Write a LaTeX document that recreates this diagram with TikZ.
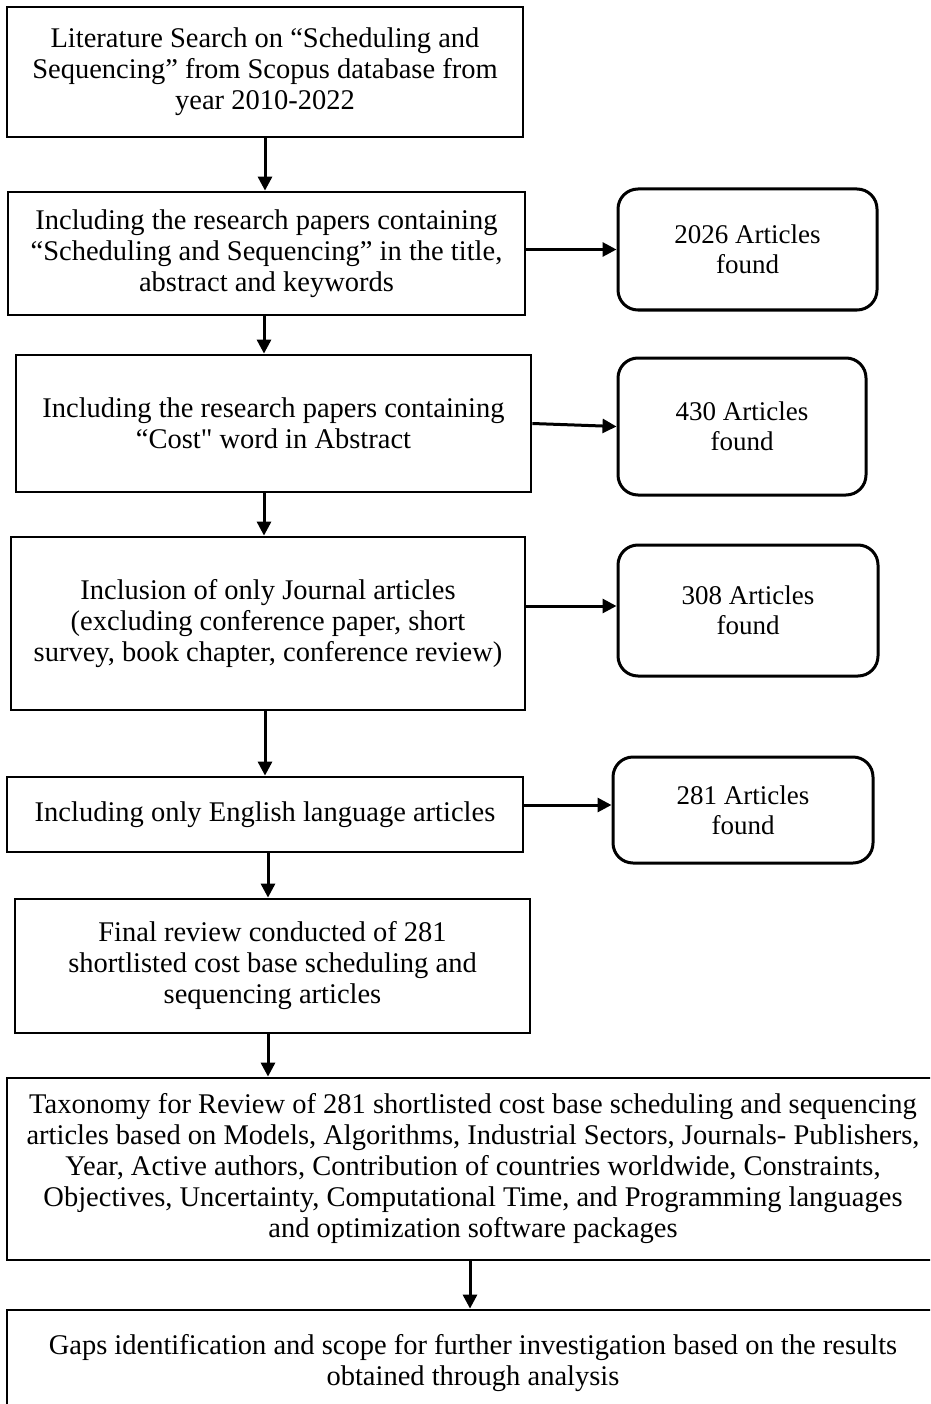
\documentclass[tikz,border=0pt]{standalone}
\usepackage{fontspec}
\setmainfont{Liberation Serif}
\newfontfamily\plainquote{Liberation Serif}
\usetikzlibrary{arrows.meta}
\tikzset{
  mainbox/.style={draw, line width=2.8pt, rectangle, inner sep=0pt, align=center,
    font=\fontsize{28.5}{31}\selectfont},
  sidebox/.style={draw, line width=3pt, rectangle, rounded corners=20pt, inner sep=0pt, align=center,
    font=\fontsize{27}{30}\selectfont},
  arr/.style={line width=3pt, -{Triangle[length=14pt,width=14pt]}}
}
\begin{document}
\begin{tikzpicture}[x=1pt,y=-1pt]
\path[use as bounding box] (0,0) rectangle (930,1404);
\clip (0,0) rectangle (930,1404);
% main boxes
\node[mainbox, minimum width=516pt, minimum height=130pt] (b1) at (265,72)
  {Literature Search on “Scheduling and\\ Sequencing” from Scopus database from\\ year 2010-2022};
\node[mainbox, minimum width=517pt, minimum height=123pt] (b2) at (266.5,253.5)
  {Including the research papers containing\\ “Scheduling and Sequencing” in the title,\\ abstract and keywords};
\node[mainbox, minimum width=515pt, minimum height=137pt] (b3) at (273.5,423.5)
  {Including the research papers containing\\ “Cost{\plainquote"} word in Abstract};
\node[mainbox, minimum width=514pt, minimum height=173pt] (b4) at (268,623.5)
  {Inclusion of only Journal articles\\ (excluding conference paper, short\\ survey, book chapter, conference review)};
\node[mainbox, minimum width=516pt, minimum height=75pt] (b5) at (265,814.5)
  {Including only English language articles};
\node[mainbox, minimum width=515pt, minimum height=134pt] (b6) at (272.5,966)
  {Final review conducted of 281\\ shortlisted cost base scheduling and\\ sequencing articles};
\node[mainbox, minimum width=932pt, minimum height=182pt] (b7) at (473,1169)
  {Taxonomy for Review of 281 shortlisted cost base scheduling and sequencing\\ articles based on Models, Algorithms, Industrial Sectors, Journals- Publishers,\\ Year, Active authors, Contribution of countries worldwide, Constraints,\\ Objectives, Uncertainty, Computational Time, and Programming languages\\ and optimization software packages};
\node[mainbox, minimum width=932pt, minimum height=106pt] (b8) at (473,1363)
  {Gaps identification and scope for further investigation based on the results\\ obtained through analysis};
% side boxes
\node[sidebox, minimum width=259pt, minimum height=121pt] (s1) at (747.5,249.5) {2026 Articles\\ found};
\node[sidebox, minimum width=248pt, minimum height=137pt] (s2) at (742,426.5) {430 Articles\\ found};
\node[sidebox, minimum width=260pt, minimum height=131pt] (s3) at (748,610.5) {308 Articles\\ found};
\node[sidebox, minimum width=260pt, minimum height=106pt] (s4) at (743,810) {281 Articles\\ found};
% vertical arrows
\draw[arr] (b1.south) -- (b1.south |- b2.north);
\draw[arr] ([xshift=-2.5pt]b2.south) -- ([xshift=-2.5pt]b2.south |- b3.north);
\draw[arr] ([xshift=-9.5pt]b3.south) -- ([xshift=-9.5pt]b3.south |- b4.north);
\draw[arr] ([xshift=-3pt]b4.south) -- ([xshift=-3pt]b4.south |- b5.north);
\draw[arr] ([xshift=3pt]b5.south) -- ([xshift=3pt]b5.south |- b6.north);
\draw[arr] ([xshift=-4.5pt]b6.south) -- ([xshift=-4.5pt]b6.south |- b7.north);
\draw[arr] ([xshift=-3pt]b7.south) -- ([xshift=-3pt]b7.south |- b8.north);
% horizontal arrows
\draw[arr] (s1.west -| b2.east) -- (s1.west);
\draw[arr] (b3.east) -- (s2.west);
\draw[arr] ([yshift=4.5pt]s3.west -| b4.east) -- ([yshift=4.5pt]s3.west);
\draw[arr] ([yshift=5pt]s4.west -| b5.east) -- ([yshift=5pt]s4.west);
\end{tikzpicture}
\end{document}
